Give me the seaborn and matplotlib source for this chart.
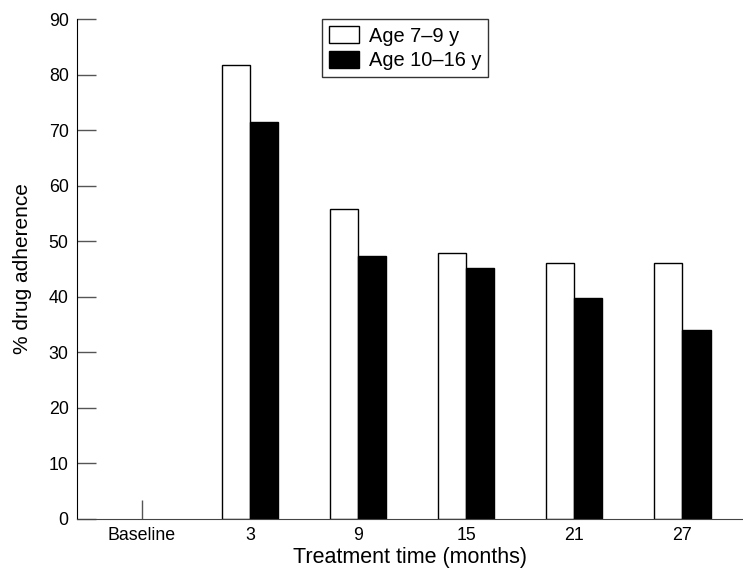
import numpy as np
import pandas as pd
import matplotlib
matplotlib.use('Agg')
import matplotlib.pyplot as plt
import seaborn as sns

# values
times = ['Baseline', '3', '9', '15', '21', '27']
age_7_9 = [np.nan, 81.7, 55.8, 47.9, 46.1, 46.1]
age_10_16 = [np.nan, 71.4, 47.3, 45.2, 39.8, 34.0]
groups = ['Age 7\u20139 y', 'Age 10\u201316 y']

df = pd.DataFrame({
    'time': times * 2,
    'adherence': age_7_9 + age_10_16,
    'group': [groups[0]] * len(times) + [groups[1]] * len(times),
})

sns.set_style('ticks')
plt.rcParams['font.family'] = ['Liberation Sans', 'DejaVu Sans']
plt.rcParams['text.color'] = 'black'
plt.rcParams['axes.labelcolor'] = 'black'
plt.rcParams['xtick.labelcolor'] = 'black'
plt.rcParams['ytick.labelcolor'] = 'black'

fig = plt.figure(figsize=(7.43, 5.71), dpi=100)
ax = fig.add_axes([0.1036, 0.0911, 0.8964, 0.8756])

sns.barplot(data=df, x='time', y='adherence', hue='group', order=times,
            hue_order=groups, palette=['white', 'black'], edgecolor='black',
            linewidth=1, width=0.52, ax=ax)

ax.set_ylim(0, 90)
ax.set_yticks(np.arange(0, 91, 10))
ax.set_xlim(-0.6, 5.56)
sns.despine(ax=ax)
ax.spines['left'].set_color('black')
ax.spines['bottom'].set_color('#444444')
ax.tick_params(axis='both', direction='in', length=14, width=1, color='#555555',
               labelsize=12.8, pad=6)
ax.set_xlabel('Treatment time (months)', fontsize=15.5, labelpad=2)
ax.set_ylabel('% drug adherence', fontsize=15, labelpad=12)

leg = ax.legend(loc='upper center', bbox_to_anchor=(0.4925, 1.0), borderaxespad=0,
                fontsize=14.4, frameon=True, fancybox=False, edgecolor='black',
                handlelength=1.5, handleheight=0.95, handletextpad=0.5,
                labelspacing=0.25, borderpad=0.35)
leg.get_frame().set_linewidth(1)

fig.savefig('out.png', dpi=100)
